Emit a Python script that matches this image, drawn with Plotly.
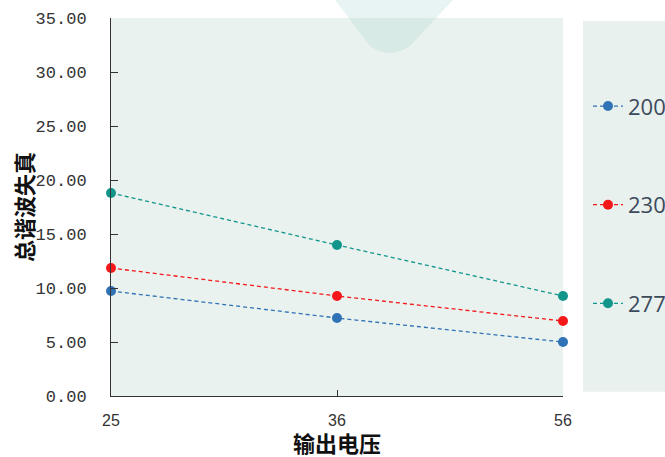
import plotly.graph_objects as go

# Output voltage categories and total harmonic distortion per input voltage
voltages = ["25", "36", "56"]
series_names = ["200", "230", "277"]
thd_200 = [9.72, 7.22, 5.00]
thd_230 = [11.85, 9.26, 6.94]
thd_277 = [18.80, 13.98, 9.26]
y_ticks = [0, 5, 10, 15, 20, 25, 30, 35]

colors = ["#2f72b6", "#f5181a", "#12968c"]

fig = go.Figure()
for i, (name, vals) in enumerate(zip(series_names, [thd_200, thd_230, thd_277])):
    fig.add_trace(go.Scatter(
        x=voltages, y=vals, name=name, mode="lines+markers",
        line=dict(color=colors[i], width=1.3, dash="4px,3px"),
        marker=dict(color=colors[i], size=10),
        legendgroup=name,
        cliponaxis=False,
    ))

# legend panel background
fig.add_shape(type="rect", xref="paper", yref="paper",
              x0=1.044, x1=1.25, y0=0.011, y1=0.992,
              fillcolor="#e8f1ee", line=dict(width=0), layer="below")

# pale drop-shaped badge at the top edge
def px(x, y):
    return f"{(x - 111) / 452:.4f},{(396 - y) / 378:.4f}"

path = (f"M {px(335, 0)} L {px(453, 0)} L {px(410, 46)} "
        f"Q {px(390, 60)} {px(370, 46)} Z")
fig.add_shape(type="path", xref="paper", yref="paper", path=path,
              fillcolor="rgba(150,205,200,0.22)", line=dict(width=0), layer="above")

title_font = dict(family="Noto Sans CJK SC", size=22, color="#111")
fig.add_annotation(text="<b>输出电压</b>", xref="paper", yref="paper",
                   x=0.5, y=-0.1217, xanchor="center", yanchor="middle",
                   showarrow=False, font=title_font, borderpad=0)
fig.add_annotation(text="<b>总谐波失真</b>", xref="paper", yref="paper",
                   x=-0.1947, y=0.5, xanchor="center", yanchor="middle",
                   textangle=-90, showarrow=False, font=title_font)

fig.update_layout(
    width=665, height=457,
    margin=dict(l=111, r=102, t=18, b=61, autoexpand=False),
    paper_bgcolor="white",
    plot_bgcolor="#e9f2ee",
    showlegend=True,
    legend=dict(
        x=1.0553, y=0.822, xanchor="left", yanchor="top",
        bgcolor="rgba(0,0,0,0)",
        font=dict(family="Open Sans, sans-serif", size=22, color="#3c4a5c"),
        tracegroupgap=67,
        itemwidth=30,
    ),
    xaxis=dict(
        type="category", range=[0, 2],
        showgrid=False, zeroline=False,
        showline=True, linecolor="#333", linewidth=1,
        ticks="inside", ticklen=6, tickcolor="#333",
        tickfont=dict(family="Liberation Sans, Arial", size=16, color="#333"),
        ticklabelstandoff=10,
    ),
    yaxis=dict(
        range=[0, 35], tickvals=y_ticks, tickformat=".2f",
        showgrid=False, zeroline=False,
        showline=True, linecolor="#333", linewidth=1,
        ticks="inside", ticklen=7, tickcolor="#333",
        tickfont=dict(family="Liberation Mono, monospace", size=17, color="#333"),
        ticklabelstandoff=20,
    ),
)

fig.write_html("out.html")
